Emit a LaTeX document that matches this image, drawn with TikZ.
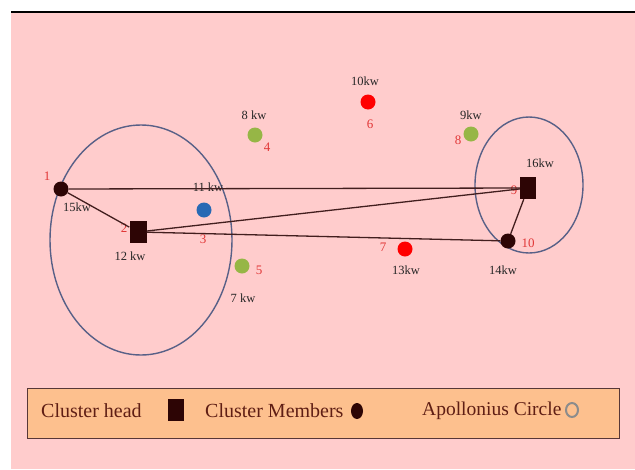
\documentclass[tikz,border=0pt]{standalone}
\usepackage{fontspec}
\setmainfont{Liberation Serif}
\usepackage{tikz}
\usetikzlibrary{positioning, shapes.geometric}
\definecolor{bgpink}{RGB}{255,204,204}
\definecolor{legpeach}{RGB}{253,192,142}
\definecolor{darkbrn}{RGB}{45,5,5}
\definecolor{txtbrn}{RGB}{95,30,20}
\definecolor{numred}{RGB}{225,55,55}
\definecolor{olivegr}{RGB}{150,182,70}
\definecolor{nodeblue}{RGB}{40,105,180}
\definecolor{ringgray}{RGB}{88,96,135}
\tikzstyle{member} = [circle, minimum size=15pt, inner sep=0pt, fill=darkbrn]
\tikzstyle{head}   = [rectangle, minimum width=17pt, minimum height=22pt, inner sep=0pt, fill=darkbrn]
\tikzstyle{free}   = [circle, minimum size=15pt, inner sep=0pt]
\tikzstyle{kw}     = [inner sep=0pt, font=\fontsize{12.5}{14}\selectfont, text=black!85]
\tikzstyle{num}    = [inner sep=0pt, font=\fontsize{13}{14}\selectfont, text=numred]
\tikzstyle{link}   = [draw=darkbrn!90, line width=1.3pt]
\tikzstyle{apol}   = [draw=ringgray, line width=1.4pt]
\tikzstyle{legtext}= [inner sep=0pt, anchor=west, font=\fontsize{20}{22}\selectfont, text=txtbrn]

\begin{document}
\begin{tikzpicture}[x=1pt, y=-1pt]
    \useasboundingbox (0,0) rectangle (635,469);
    \fill[bgpink] (11,13) rectangle (635,469);
    \draw[black, line width=2pt] (11,12) -- (635,12);

    % apollonius circles
    \draw[apol] (141,240) ellipse [x radius=91, y radius=115];
    \draw[apol] (529,185) ellipse [x radius=54, y radius=68];

    % nodes
    \node[member]              (n1)  at (61,189)  {};
    \node[head]                (n2)  at (138,232) {};
    \node[free, fill=nodeblue] (n3)  at (204,210) {};
    \node[free, fill=olivegr]  (n4)  at (255,135) {};
    \node[free, fill=olivegr]  (n5)  at (242,266) {};
    \node[free, fill=red]      (n6)  at (368,102) {};
    \node[free, fill=red]      (n7)  at (405,249) {};
    \node[free, fill=olivegr]  (n8)  at (471,134) {};
    \node[head, minimum width=16pt] (n9) at (528,188) {};
    \node[member]              (n10) at (508,241) {};

    % power labels
    \node[kw] (kw1)  at (77,207)  {15kw};
    \node[kw] (kw2)  at (130,256) {12 kw};
    \node[kw] (kw3)  at (208,187) {11 kw};
    \node[kw] (kw4)  at (254,115) {8 kw};
    \node[kw] (kw5)  at (243,298) {7 kw};
    \node[kw] (kw6)  at (365,81)  {10kw};
    \node[kw] (kw7)  at (406,270) {13kw};
    \node[kw] (kw8)  at (471,115) {9kw};
    \node[kw] (kw9)  at (540,163) {16kw};
    \node[kw] (kw10) at (503,270) {14kw};

    % node numbers
    \node[num] (id1)  at (47,176)  {1};
    \node[num] (id2)  at (124,228) {2};
    \node[num] (id3)  at (203,239) {3};
    \node[num] (id4)  at (267,147) {4};
    \node[num] (id5)  at (259,270) {5};
    \node[num] (id6)  at (370,124) {6};
    \node[num] (id7)  at (383,247) {7};
    \node[num] (id8)  at (458,140) {8};
    \node[num] (id9)  at (514,190) {9};
    \node[num] (id10) at (528,243) {10};

    \draw[link] (n1) -- (n9);
    \draw[link] (n1) -- (n2);
    \draw[link] (n2) -- (n9);
    \draw[link] (n2) -- (n10);
    \draw[link] (n9) -- (n10);

    % legend
    \draw[fill=legpeach, draw=darkbrn!80, line width=0.9pt] (27,388) rectangle (619,438);
    \node[legtext] (lhead) at (41,411) {Cluster head};
    \node[head, minimum width=16pt] (lsq) at (176,410) {};
    \node[legtext] (lmem) at (205,411) {Cluster Members};
    \node[member, ellipse, minimum width=12pt, minimum height=16pt] (ldot) at (357,411) {};
    \node[legtext, font=\fontsize{19.5}{22}\selectfont] (lapol) at (422,411) {Apollonius Circle};
    \node[ellipse, draw=gray!90, line width=2pt, minimum width=12pt, minimum height=14pt, inner sep=0pt] (lring) at (572,410) {};
\end{tikzpicture}
\end{document}
